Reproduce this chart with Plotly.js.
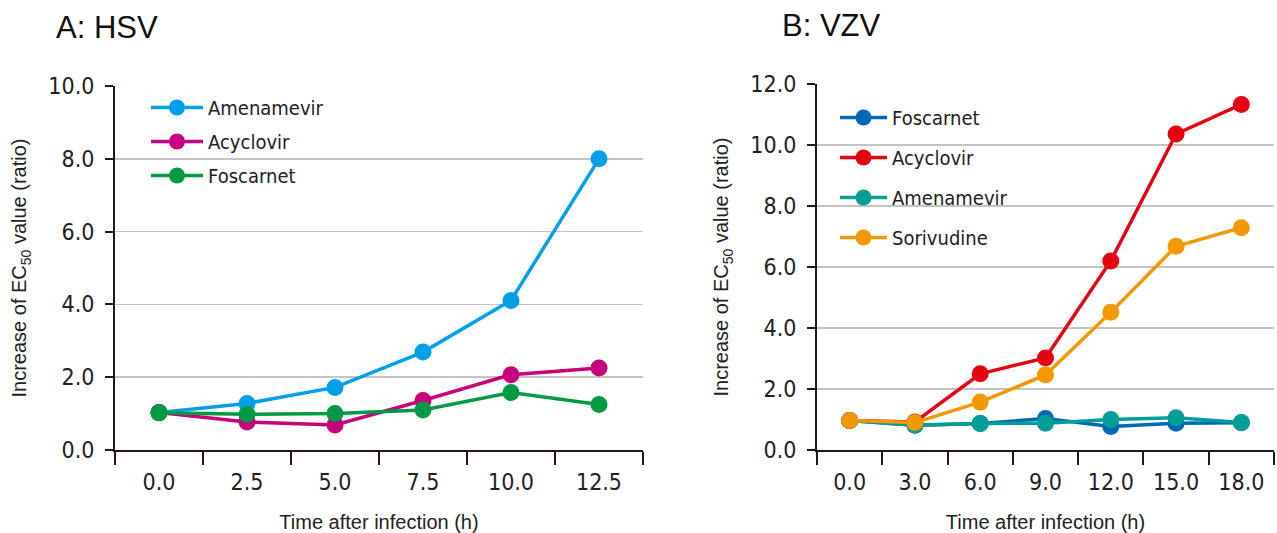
<!DOCTYPE html>
<html>
<head>
<meta charset="utf-8">
<script src="https://cdn.plot.ly/plotly-3.0.1.min.js"></script>
<style>html,body{margin:0;padding:0;background:#fff;}#chart{width:1277px;height:533px;}</style>
</head>
<body>
<div id="chart"></div>
<script>
// ---- Data ----
const hsvTimes = ["0.0", "2.5", "5.0", "7.5", "10.0", "12.5"];
const hsvAmenamevir = [1.03, 1.28, 1.72, 2.69, 4.11, 8.0];
const hsvAcyclovir = [1.03, 0.77, 0.69, 1.36, 2.07, 2.25];
const hsvFoscarnet = [1.02, 0.98, 1.0, 1.1, 1.58, 1.25];

const vzvTimes = ["0.0", "3.0", "6.0", "9.0", "12.0", "15.0", "18.0"];
const vzvFoscarnet = [0.97, 0.81, 0.87, 1.03, 0.77, 0.88, 0.89];
const vzvAcyclovir = [0.97, 0.92, 2.5, 3.02, 6.2, 10.36, 11.33];
const vzvAmenamevir = [0.97, 0.81, 0.87, 0.88, 1.0, 1.06, 0.9];
const vzvSorivudine = [0.97, 0.9, 1.57, 2.46, 4.52, 6.68, 7.29];

const yTicksA = [0, 2, 4, 6, 8, 10];
const yTicksB = [0, 2, 4, 6, 8, 10, 12];

// ---- Styling ----
const narrow = "Liberation Sans Narrow, DejaVu Sans Condensed, Arial Narrow, sans-serif";
const sans = "Liberation Sans, Arial, sans-serif";
const axisCol = "#231815";
const gridCol = "#c4c4c4";

function tr(x, y, name, color, xa, ya, leg, grp) {
  return {
    x: x, y: y, name: name, type: "scatter", mode: "lines+markers",
    xaxis: xa, yaxis: ya, legend: leg, legendgroup: grp,
    line: {color: color, width: 3.5},
    marker: {color: color, size: 17}
  };
}

const data = [
  tr(hsvTimes, hsvAmenamevir, "Amenamevir", "#00a0e9", "x", "y", "legend", "a1"),
  tr(hsvTimes, hsvAcyclovir, "Acyclovir", "#c7007d", "x", "y", "legend", "a2"),
  tr(hsvTimes, hsvFoscarnet, "Foscarnet", "#009944", "x", "y", "legend", "a3"),
  tr(vzvTimes, vzvFoscarnet, "Foscarnet", "#0068b7", "x2", "y2", "legend2", "b1"),
  tr(vzvTimes, vzvAcyclovir, "Acyclovir", "#e60012", "x2", "y2", "legend2", "b2"),
  tr(vzvTimes, vzvAmenamevir, "Amenamevir", "#009e96", "x2", "y2", "legend2", "b3"),
  tr(vzvTimes, vzvSorivudine, "Sorivudine", "#f39800", "x2", "y2", "legend2", "b4")
];

function xAxis(domain, n, anchor) {
  return {
    domain: domain, anchor: anchor, type: "category",
    range: [-0.5, n - 0.5], tickson: "boundaries",
    ticks: "outside", ticklen: 13, tickwidth: 2, tickcolor: axisCol,
    showline: true, linecolor: axisCol, linewidth: 2,
    showgrid: false, zeroline: false,
    tickfont: {family: narrow, size: 23, color: "#222"},
    ticklabelstandoff: 10,
    title: {text: "Time after infection (h)", font: {family: sans, size: 20, color: "#222"}, standoff: 24}
  };
}
function yAxis(domain, max, tickvals, anchor) {
  return {
    domain: domain, anchor: anchor, range: [0, max],
    tickvals: tickvals, tickformat: ".1f",
    ticks: "outside", ticklen: 8, tickwidth: 2, tickcolor: axisCol,
    showline: true, linecolor: axisCol, linewidth: 2,
    showgrid: true, gridcolor: gridCol, gridwidth: 1.5,
    zeroline: false,
    tickfont: {family: narrow, size: 23, color: "#222"},
    ticklabelstandoff: 6,
    title: {text: "Increase of EC<sub>50</sub> value (ratio)", font: {family: sans, size: 20, color: "#222"}, standoff: 16}
  };
}

const layout = {
  width: 1277, height: 533,
  margin: {l: 0, r: 0, t: 0, b: 0},
  paper_bgcolor: "#fff", plot_bgcolor: "#fff",
  showlegend: true,
  xaxis: xAxis([115/1277, 643/1277], hsvTimes.length, "y"),
  yaxis: yAxis([1 - 450/533, 1 - 86/533], 10, yTicksA, "x"),
  xaxis2: xAxis([817/1277, 1274/1277], vzvTimes.length, "y2"),
  yaxis2: yAxis([1 - 450/533, 1 - 84/533], 12, yTicksB, "x2"),
  legend: {
    x: 146/1277, y: 1 - 88/533, xanchor: "left", yanchor: "top",
    bgcolor: "rgba(0,0,0,0)", font: {family: narrow, size: 20, color: "#222"},
    tracegroupgap: 5, itemwidth: 52
  },
  legend2: {
    x: 835/1277, y: 1 - 98/533, xanchor: "left", yanchor: "top",
    bgcolor: "rgba(0,0,0,0)", font: {family: narrow, size: 20, color: "#222"},
    tracegroupgap: 11, itemwidth: 47
  },
  annotations: [
    {text: "A: HSV", xref: "paper", yref: "paper", x: 54/1277, y: 1 - 8/533, xanchor: "left", yanchor: "top", showarrow: false, font: {family: sans, size: 31, color: "#111"}},
    {text: "B: VZV", xref: "paper", yref: "paper", x: 780/1277, y: 1 - 6/533, xanchor: "left", yanchor: "top", showarrow: false, font: {family: sans, size: 31, color: "#111"}}
  ]
};

Plotly.newPlot("chart", data, layout, {displayModeBar: false, staticPlot: true});
</script>
</body>
</html>
